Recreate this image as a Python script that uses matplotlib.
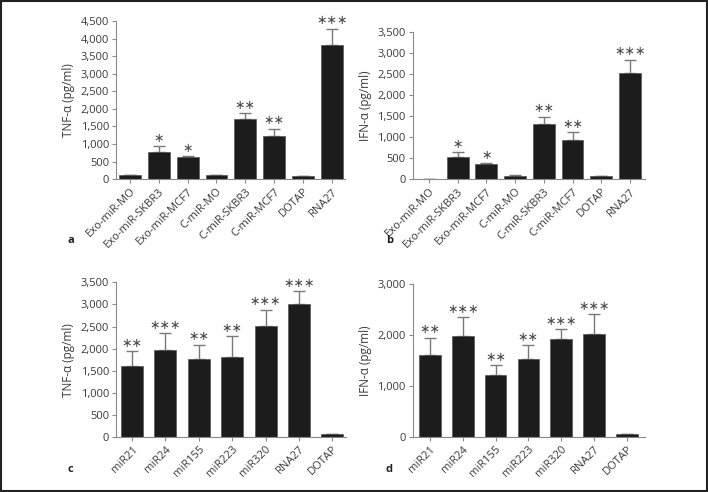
import numpy as np
import matplotlib
matplotlib.use('Agg')
import matplotlib.pyplot as plt
from matplotlib.patches import Rectangle
from matplotlib.ticker import FuncFormatter

plt.rcParams['font.family'] = ['Open Sans', 'DejaVu Sans']

# data
top_labels = ['Exo-miR-MO', 'Exo-miR-SKBR3', 'Exo-miR-MCF7', 'C-miR-MO',
              'C-miR-SKBR3', 'C-miR-MCF7', 'DOTAP', 'RNA27']
a_tnf = [115, 780, 630, 125, 1720, 1220, 80, 3820]
a_err = [0, 155, 25, 0, 150, 220, 0, 460]
b_ifn = [0, 515, 360, 80, 1320, 920, 85, 2520]
b_err = [0, 120, 20, 10, 165, 190, 0, 325]
top_stars = ['', '*', '*', '', '**', '**', '', '***']

bottom_labels = ['miR21', 'miR24', 'miR155', 'miR223', 'miR320', 'RNA27', 'DOTAP']
c_tnf = [1610, 1960, 1760, 1810, 2510, 3020, 65]
c_err = [325, 385, 325, 470, 370, 275, 0]
d_ifn = [1620, 1975, 1220, 1525, 1925, 2020, 60]
d_err = [335, 385, 190, 275, 190, 390, 0]
bottom_stars = ['**', '***', '**', '**', '***', '***', '']

bar_col = '#1c1c1c'
axis_col = '#8a8a8a'
text_col = '#3a3a3a'

fig = plt.figure(figsize=(7.08, 4.92), dpi=100)


def panel(rect, labels, vals, errs, stars, ymax, ystep, xlim, ylabel, width):
    ax = fig.add_axes(rect)
    x = np.arange(len(labels))
    ax.errorbar(x, vals, yerr=[np.zeros(len(vals)), errs], fmt='none',
                ecolor='#7a7a7a', elinewidth=1, capsize=4, capthick=1, zorder=1)
    ax.bar(x, vals, width=width, color=bar_col, edgecolor='#555555', linewidth=0.5, zorder=2)
    for xi, v, e, s in zip(x, vals, errs, stars):
        if s:
            ax.annotate('\u2217' * len(s), (xi, v + e), xytext=(0, 1),
                        textcoords='offset points', ha='center', va='bottom',
                        fontsize=9, color='#4a4a4a', family=['DejaVu Sans'])
    ax.set_xlim(*xlim)
    ax.set_ylim(0, ymax)
    ax.set_yticks(np.arange(0, ymax + 1, ystep))
    ax.yaxis.set_major_formatter(FuncFormatter(lambda v, p: f'{int(v):,}'))
    ax.set_xticks(x)
    ax.set_xticklabels(labels, rotation=45, ha='right', rotation_mode='anchor')
    ax.tick_params(axis='both', labelsize=8, colors=axis_col, labelcolor=text_col,
                   length=3, width=0.8, pad=2)
    for side in ['top', 'right']:
        ax.spines[side].set_visible(False)
    for side in ['left', 'bottom']:
        ax.spines[side].set_color(axis_col)
        ax.spines[side].set_linewidth(0.8)
    ax.set_ylabel(ylabel, fontsize=8.5, color=text_col, labelpad=4)
    return ax


panel([0.164, 0.636, 0.323, 0.321], top_labels, a_tnf, a_err, top_stars,
      4500, 500, (-0.48, 7.45), 'TNF-α (pg/ml)', 0.76)
panel([0.583, 0.636, 0.328, 0.299], top_labels, b_ifn, b_err, top_stars,
      3500, 500, (-0.56, 7.52), 'IFN-α (pg/ml)', 0.76)
panel([0.164, 0.112, 0.325, 0.314], bottom_labels, c_tnf, c_err, bottom_stars,
      3500, 500, (-0.48, 6.42), 'TNF-α (pg/ml)', 0.66)
panel([0.583, 0.112, 0.328, 0.310], bottom_labels, d_ifn, d_err, bottom_stars,
      3000, 1000, (-0.52, 6.55), 'IFN-α (pg/ml)', 0.66)

for lx, ly, letter in [(68, 241, 'a'), (386, 241, 'b'), (68, 469, 'c'), (386, 469, 'd')]:
    fig.text(lx / 708, 1 - ly / 492, letter, fontsize=8, fontweight='bold',
             color='#222222', ha='left', va='center')

fig.patches.append(Rectangle((0.001, 0.003), 0.997, 0.995, transform=fig.transFigure,
                             fill=False, edgecolor='#222222', linewidth=1.5))

fig.savefig('out.png', dpi=100)
